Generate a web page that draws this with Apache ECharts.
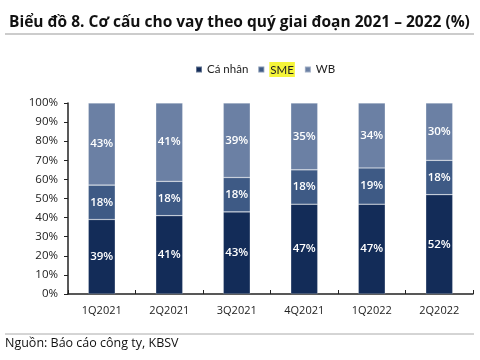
<!DOCTYPE html>
<html><head><meta charset="utf-8">
<script src="https://cdn.jsdelivr.net/npm/echarts@6/dist/echarts.min.js"></script>
<style>html,body{margin:0;padding:0;background:#fff}#c{width:480px;height:360px}</style>
</head><body><div id="c"></div>
<script>
const categories = ['1Q2021','2Q2021','3Q2021','4Q2021','1Q2022','2Q2022'];
const caNhan = [39, 41, 43, 47, 47, 52];
const sme = [18, 18, 18, 18, 19, 18];
const wb = [43, 41, 39, 35, 34, 30];
const yTicks = [0,10,20,30,40,50,60,70,80,90,100];

const font = '"Open Sans", "Noto Sans", sans-serif';
const font2 = 'Lato, "Open Sans", sans-serif';
const chart = echarts.init(document.getElementById('c'), null, {renderer:'canvas'});
function mk(name, data, color){
  return {name, type:'bar', stack:'a', data, barWidth:27,
    itemStyle:{color, borderColor:'rgba(255,255,255,0.35)', borderWidth:0.6},
    label:{show:true, position:'inside', color:'#fff', fontSize:11.5, fontFamily:font, fontWeight:600, formatter:p=>p.value+'%'}};
}
chart.setOption({
  animation:false,
  title:{text:'Biểu đồ 8. Cơ cấu cho vay theo quý giai đoạn 2021 – 2022 (%)', left:4, top:10,
    textStyle:{fontFamily:font, fontSize:15.5, fontWeight:'bold', color:'#111'}},
  legend:{top:57, left:190, itemWidth:6, itemHeight:6, itemGap:9, icon:'rect',
    textStyle:{fontFamily:font2, fontSize:11.5, color:'#222', rich:{hl:{backgroundColor:'#f5f53a', fontFamily:font2, fontSize:11.5, color:'#222', padding:[2,1,1,1]}}},
    formatter:n=> n==='SME' ? '{hl|SME}' : n,
    data:['Cá nhân','SME','WB']},
  grid:{left:68, right:7, top:103, bottom:66, containLabel:false},
  xAxis:{type:'category', data:categories,
    axisLine:{lineStyle:{color:'#222', width:1.5}},
    axisTick:{show:true, inside:true, length:4, lineStyle:{color:'#222'}},
    axisLabel:{fontFamily:font, fontSize:11, color:'#222', margin:11}},
  yAxis:{type:'value', min:0, max:100, interval:10,
    axisLine:{show:true, lineStyle:{color:'#222', width:1.5}},
    axisTick:{show:true, length:4, lineStyle:{color:'#222'}},
    splitLine:{show:false},
    axisLabel:{fontFamily:font, fontSize:11.5, color:'#222', margin:10, formatter:v=>yTicks.includes(v)? v+'%':''}},
  graphic:[
    {type:'line', shape:{x1:5,y1:34,x2:474,y2:34}, style:{stroke:'#999', lineWidth:1}},
    {type:'line', shape:{x1:5,y1:334,x2:474,y2:334}, style:{stroke:'#aaa', lineWidth:1}},
    {type:'text', left:5, top:337, style:{text:'Nguồn: Báo cáo công ty, KBSV', font:'12.5px '+font, fill:'#111'}}
  ],
  series:[mk('Cá nhân', caNhan, '#132c58'), mk('SME', sme, '#3e5a85'), mk('WB', wb, '#6b80a4')]
});
</script></body></html>
